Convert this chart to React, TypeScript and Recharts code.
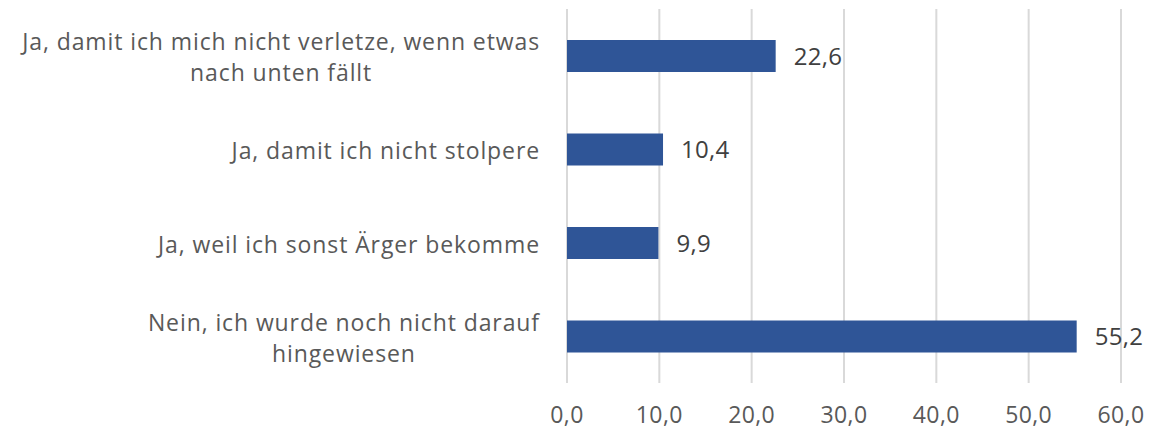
import React from "react";
import { Bar, BarChart, CartesianGrid, LabelList, XAxis, YAxis } from "recharts";

const CATEGORIES = [
  "Ja, damit ich mich nicht verletze, wenn etwas\nnach unten fällt",
  "Ja, damit ich nicht stolpere",
  "Ja, weil ich sonst Ärger bekomme",
  "Nein, ich wurde noch nicht darauf\nhingewiesen",
];
const VALUES = [22.6, 10.4, 9.9, 55.2];
const X_TICKS = [0, 10, 20, 30, 40, 50, 60];

const data = CATEGORIES.map((name, i) => ({ name, value: VALUES[i] }));

const FONT = "'Open Sans', 'Noto Sans', sans-serif";
const TEXT = "#595959";
const CAT_SIZE = 23;
const CAT_SPACING = 0.9;

const fmt = (v: number) => v.toFixed(1).replace(".", ",");

let ctx: CanvasRenderingContext2D | null = null;
const measure = (s: string) => {
  if (!ctx) ctx = document.createElement("canvas").getContext("2d");
  if (!ctx) return s.length * 12;
  ctx.font = `${CAT_SIZE}px 'Open Sans'`;
  return ctx.measureText(s).width + s.length * CAT_SPACING;
};

const CategoryTick = (props: any) => {
  const { x, y, payload } = props;
  const lines: string[] = String(payload.value).split("\n");
  const maxW = Math.max(...lines.map(measure));
  const right = x - 19;
  const cx = right - maxW / 2;
  const lh = 31;
  const start = y - ((lines.length - 1) * lh) / 2 + 1;
  return (
    <text
      textAnchor="middle"
      fill={TEXT}
      fontSize={CAT_SIZE}
      fontFamily={FONT}
      letterSpacing={CAT_SPACING}
      dominantBaseline="central"
    >
      {lines.map((l, i) => (
        <tspan key={i} x={cx} y={start + i * lh}>
          {l}
        </tspan>
      ))}
    </text>
  );
};

export default function App() {
  return (
    <div style={{ position: "absolute", left: 0, top: 0, background: "#fff" }}>
      <BarChart
        width={1163}
        height={429}
        data={data}
        layout="vertical"
        margin={{ top: 9, right: 42, bottom: 0, left: 0 }}
        barSize={32}
      >
        <CartesianGrid horizontal={false} stroke="#d9d9d9" strokeWidth={2} />
        <XAxis
          type="number"
          domain={[0, 60]}
          ticks={X_TICKS}
          tickFormatter={fmt}
          axisLine={false}
          tickLine={false}
          height={46}
          tick={{ fill: TEXT, fontSize: 23, fontFamily: FONT, dy: 16, letterSpacing: 0.4 }}
        />
        <YAxis
          type="category"
          dataKey="name"
          width={567}
          axisLine={false}
          tickLine={false}
          tick={<CategoryTick />}
        />
        <Bar dataKey="value" fill="#2F5597" isAnimationActive={false}>
          <LabelList
            dataKey="value"
            position="right"
            offset={18}
            formatter={(v: any) => fmt(Number(v))}
            fill="#404040"
            fontSize={24}
            fontFamily={FONT}
            letterSpacing={0.3}
          />
        </Bar>
      </BarChart>
    </div>
  );
}
